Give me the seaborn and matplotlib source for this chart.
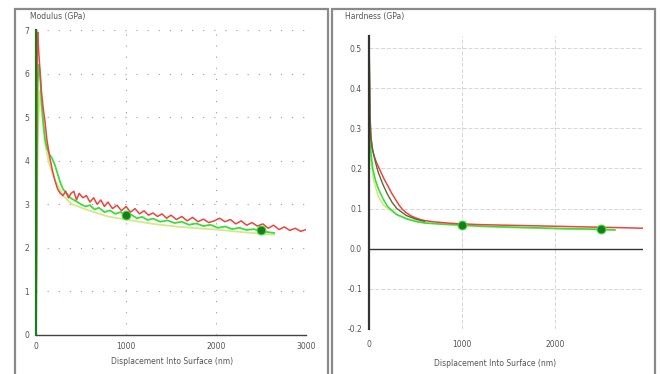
import numpy as np
import pandas as pd
import matplotlib
matplotlib.use("Agg")
import matplotlib.pyplot as plt
import seaborn as sns
from matplotlib.patches import Rectangle

# --------------------------------------------------------------
# Data (displacement in nm)
# --------------------------------------------------------------
red_mod_x = [0, 5, 10, 15, 20, 25, 30, 40, 50, 60, 80, 100, 120, 150, 180, 210, 240, 270, 300, 330,
             360, 390, 420, 450, 480, 520, 560, 600, 640, 680, 720, 760, 800, 850, 900, 950, 1000, 1050, 1100, 1150,
             1200, 1250, 1300, 1350, 1400, 1450, 1500, 1560, 1620, 1680, 1740, 1800, 1860, 1920, 1980, 2040, 2100, 2160, 2220, 2280,
             2340, 2400, 2460, 2520, 2580, 2640, 2700, 2760, 2820, 2880, 2940, 3000]
red_mod_y = [0, 2.0, 5.5, 6.9, 6.95, 6.7, 6.5, 6.2, 5.9, 5.6, 5.2, 4.9, 4.5, 4.1, 3.8, 3.55, 3.35, 3.25, 3.2, 3.3,
             3.15, 3.25, 3.3, 3.1, 3.25, 3.15, 3.2, 3.05, 3.15, 3.0, 3.1, 2.95, 3.05, 2.9, 2.98, 2.85, 2.95, 2.82, 2.9, 2.78,
             2.85, 2.75, 2.8, 2.72, 2.78, 2.68, 2.75, 2.65, 2.72, 2.62, 2.7, 2.6, 2.66, 2.58, 2.62, 2.68, 2.6, 2.65, 2.55, 2.62,
             2.52, 2.58, 2.5, 2.55, 2.45, 2.52, 2.42, 2.48, 2.4, 2.45, 2.38, 2.42]

green_mod_x = [0, 10, 20, 30, 40, 50, 60, 80, 100, 120, 150, 180, 210, 240, 270, 300, 340, 380, 420, 460,
               500, 550, 600, 650, 700, 760, 820, 880, 940, 1000, 1060, 1120, 1180, 1240, 1300, 1380, 1460, 1540, 1620, 1700,
               1780, 1860, 1940, 2020, 2100, 2180, 2260, 2340, 2420, 2500, 2580, 2650]
green_mod_y = [0, 3.5, 5.8, 6.2, 6.1, 5.8, 5.4, 4.9, 4.5, 4.3, 4.15, 4.05, 3.9, 3.7, 3.5, 3.35, 3.25, 3.15, 3.1, 3.05,
               3.0, 2.95, 2.98, 2.88, 2.92, 2.82, 2.86, 2.78, 2.82, 2.74, 2.76, 2.68, 2.71, 2.64, 2.67, 2.6, 2.63, 2.57, 2.6, 2.53,
               2.56, 2.5, 2.53, 2.46, 2.49, 2.43, 2.46, 2.41, 2.43, 2.38, 2.36, 2.34]

pale_mod_x = [0, 20, 40, 60, 100, 150, 200, 300, 400, 600, 800, 1000, 1300, 1600, 2000, 2300, 2650]
pale_mod_y = [0, 4.5, 5.6, 5.2, 4.4, 3.9, 3.6, 3.2, 3.0, 2.85, 2.72, 2.65, 2.55, 2.48, 2.42, 2.36, 2.3]

red_hard_x = [0, 10, 20, 30, 45, 60, 80, 100, 130, 160, 200, 240, 280, 320, 360, 400, 450, 500, 550, 600,
              700, 800, 900, 1000, 1200, 1400, 1600, 1800, 2000, 2200, 2400, 2600, 2800, 2950]
red_hard_y = [0.53, 0.34, 0.28, 0.255, 0.24, 0.228, 0.215, 0.205, 0.19, 0.175, 0.158, 0.14, 0.125, 0.11, 0.098, 0.09, 0.082, 0.077, 0.073, 0.07,
              0.067, 0.065, 0.063, 0.062, 0.06, 0.059, 0.058, 0.057, 0.056, 0.055, 0.054, 0.053, 0.052, 0.051]

dark_hard_x = [0, 10, 20, 40, 70, 100, 150, 200, 250, 300, 400, 500, 600]
dark_hard_y = [0.53, 0.33, 0.28, 0.245, 0.215, 0.19, 0.16, 0.135, 0.115, 0.10, 0.083, 0.074, 0.068]

green_hard_x = [0, 10, 20, 40, 70, 100, 150, 200, 300, 400, 500, 600, 800, 1000, 1200, 1500, 1800, 2100, 2400, 2500, 2650]
green_hard_y = [0.53, 0.30, 0.24, 0.20, 0.17, 0.15, 0.125, 0.105, 0.085, 0.075, 0.068, 0.064, 0.061, 0.059, 0.056, 0.054, 0.052, 0.05, 0.049, 0.048, 0.047]

pale_hard_x = [0, 20, 50, 100, 150, 200, 300, 400, 600, 1000, 1500, 2000, 2650]
pale_hard_y = [0.45, 0.22, 0.17, 0.13, 0.11, 0.10, 0.085, 0.075, 0.065, 0.058, 0.053, 0.05, 0.046]

# averaged points (dark green)
mod_pts_x = [1000, 2500]
mod_pts_y = [2.75, 2.40]
hard_pts_x = [1000, 2500]
hard_pts_y = [0.058, 0.048]

mod_yticks = [0, 1, 2, 3, 4, 5, 6, 7]
hard_yticks = [-0.2, -0.1, 0.0, 0.1, 0.2, 0.3, 0.4, 0.5]
hard_ytick_labels = ["-0.2", "-0.1", "0.0", "0.1", "0.2", "0.3", "0.4", "0.5"]

RED = "#e8463f"
GREEN = "#3ddc3d"
PALE = "#d4e88a"
DARK = "#1f7a1f"
TXT = "#555555"

sns.set_style("white")
plt.rcParams["font.family"] = ["DejaVu Sans"]

fig = plt.figure(figsize=(6.6, 3.74), dpi=100)

# panel frames
fig.patches.append(Rectangle((15 / 660, -0.01), 313 / 660, 1 - 9 / 374 + 0.01, transform=fig.transFigure,
                             fill=False, ec="#8a8a8a", lw=1.6))
fig.patches.append(Rectangle((332 / 660, -0.01), 323 / 660, 1 - 9 / 374 + 0.01, transform=fig.transFigure,
                             fill=False, ec="#8a8a8a", lw=1.6))

# =====================================================================
# Modulus panel
# =====================================================================
ax1 = fig.add_axes([36 / 660, 1 - 335 / 374, 270 / 660, 305 / 374])
for v in mod_yticks[1:]:
    ax1.axhline(v, color="#9a9a9a", lw=0.8, ls=(0, (1, 9)), zorder=0)
for v in [1000, 2000, 3000]:
    ax1.axvline(v, color="#9a9a9a", lw=0.8, ls=(0, (1, 9)), zorder=0)

sns.lineplot(x=pale_mod_x, y=pale_mod_y, ax=ax1, color=PALE, lw=1.3, estimator=None, sort=False)
sns.lineplot(x=green_mod_x, y=green_mod_y, ax=ax1, color=GREEN, lw=1.3, estimator=None, sort=False)
sns.lineplot(x=red_mod_x, y=red_mod_y, ax=ax1, color=RED, lw=1.1, estimator=None, sort=False)
sns.scatterplot(x=mod_pts_x, y=mod_pts_y, ax=ax1, color=DARK, s=40, marker="o", edgecolor=GREEN, lw=0.8, zorder=5)

ax1.set_xlim(0, 3000)
ax1.set_ylim(0, 7)
ax1.set_xticks([0, 1000, 2000, 3000])
ax1.set_xticks([500, 1500, 2500], minor=True)
ax1.set_yticks(mod_yticks)
ax1.tick_params(axis="both", which="both", labelsize=5.5, labelcolor=TXT, color="#444444",
                direction="inout", length=4, width=0.8, pad=3)
for s in ["top", "right"]:
    ax1.spines[s].set_visible(False)
ax1.spines["left"].set_color(DARK)
ax1.spines["left"].set_linewidth(1.6)
ax1.spines["bottom"].set_color("#444444")
ax1.spines["bottom"].set_linewidth(1.0)
ax1.set_xlabel("")
ax1.set_ylabel("")

fig.text(30 / 660, 1 - 16 / 374, "Modulus (GPa)", fontsize=5.5, color=TXT, va="center", ha="left")
fig.text(172 / 660, 1 - 361 / 374, "Displacement Into Surface (nm)", fontsize=5.5, color=TXT, va="center", ha="center")

# =====================================================================
# Hardness panel
# =====================================================================
ax2 = fig.add_axes([369 / 660, 1 - 329 / 374, 274 / 660, 293 / 374])
for v in hard_yticks:
    if v != 0.0:
        ax2.axhline(v, color="#d6d6d6", lw=0.7, ls=(0, (4, 2)), zorder=0)
for v in [1000, 2000]:
    ax2.axvline(v, color="#d6d6d6", lw=0.7, ls=(0, (4, 2)), zorder=0)
ax2.axhline(0, color="#333333", lw=1.0, zorder=1)

sns.lineplot(x=pale_hard_x, y=pale_hard_y, ax=ax2, color=PALE, lw=1.2, estimator=None, sort=False)
sns.lineplot(x=green_hard_x, y=green_hard_y, ax=ax2, color=GREEN, lw=1.2, estimator=None, sort=False)
sns.lineplot(x=red_hard_x, y=red_hard_y, ax=ax2, color=RED, lw=1.1, estimator=None, sort=False)
sns.lineplot(x=dark_hard_x, y=dark_hard_y, ax=ax2, color="#5a6b35", lw=1.0, estimator=None, sort=False)
sns.scatterplot(x=hard_pts_x, y=hard_pts_y, ax=ax2, color=DARK, s=40, marker="o", edgecolor=GREEN, lw=0.8, zorder=5)

ax2.set_xlim(0, 2950)
ax2.set_ylim(-0.2, 0.53)
ax2.set_xticks([0, 1000, 2000])
ax2.set_yticks(hard_yticks)
ax2.set_yticklabels(hard_ytick_labels)
ax2.tick_params(axis="y", labelsize=5.5, labelcolor=TXT, color="#444444", direction="inout", length=4, width=0.8, pad=3)
ax2.tick_params(axis="x", labelsize=5.5, labelcolor=TXT, length=0, pad=8)
for s in ["top", "right", "bottom"]:
    ax2.spines[s].set_visible(False)
ax2.spines["left"].set_color("#333333")
ax2.spines["left"].set_linewidth(1.6)
ax2.set_xlabel("")
ax2.set_ylabel("")

fig.text(345 / 660, 1 - 16 / 374, "Hardness (GPa)", fontsize=5.5, color=TXT, va="center", ha="left")
fig.text(495 / 660, 1 - 363 / 374, "Displacement Into Surface (nm)", fontsize=5.5, color=TXT, va="center", ha="center")

fig.savefig("out.png", dpi=100)
